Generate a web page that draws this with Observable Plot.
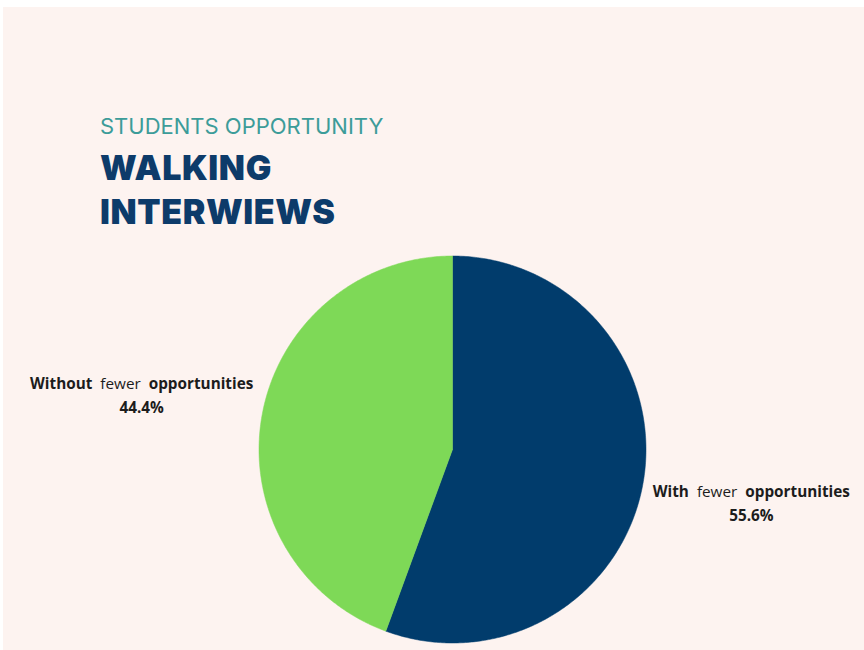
<!DOCTYPE html>
<html>
<head>
<meta charset="utf-8">
<script src="https://cdn.jsdelivr.net/npm/d3@7"></script>
<script src="https://cdn.jsdelivr.net/npm/@observablehq/plot@0.6"></script>
<style>
  html, body { margin: 0; padding: 0; background: #ffffff; width: 864px; height: 650px; overflow: hidden; }
  #bg { position: absolute; left: 3px; top: 7px; width: 861px; height: 643px; background: #fdf3f0; }
  #chart { position: absolute; left: 0; top: 0; }
  #head { position: absolute; left: 100px; top: 112px; }
  .sub { font-family: "Inter", "Liberation Sans", sans-serif; font-weight: 400; font-size: 22px; color: #3c9c99; letter-spacing: 0px; line-height: 28px; }
  .big { font-family: "Inter", "DejaVu Sans", sans-serif; font-weight: 900; font-size: 34px; color: #0d3b6a; line-height: 44px; letter-spacing: 0.6px; }
</style>
</head>
<body>
<div id="bg"></div>
<div id="chart"></div>
<div id="head">
  <div class="sub">STUDENTS OPPORTUNITY</div>
  <div class="big" style="margin-top:6px">WALKING</div>
  <div class="big">INTERWIEWS</div>
</div>
<script>
const categories = ["With fewer opportunities", "Without fewer opportunities"];
const percents = [55.6, 44.4];
const colors = ["#013c6c", "#7ed957"];

const pie = d3.pie().sort(null).value(d => d)(percents);

// Build slice outlines (unit circle, angle clockwise from top)
const slicePts = [];
pie.forEach((s, i) => {
  slicePts.push({cat: categories[i], x: 0, y: 0});
  const n = Math.max(2, Math.ceil((s.endAngle - s.startAngle) / 0.01));
  for (let k = 0; k <= n; k++) {
    const a = s.startAngle + (s.endAngle - s.startAngle) * k / n;
    slicePts.push({cat: categories[i], x: Math.sin(a), y: Math.cos(a)});
  }
  slicePts.push({cat: categories[i], x: 0, y: 0});
});

const labelR = 1.6;
const labels = pie.map((s, i) => {
  const a = (s.startAngle + s.endAngle) / 2;
  return {cat: categories[i], pct: percents[i], x: labelR * Math.sin(a), y: labelR * Math.cos(a)};
});

const plot = Plot.plot({
  width: 864,
  height: 650,
  marginLeft: 258.5,
  marginRight: 218.5,
  marginTop: 255.5,
  marginBottom: 7.5,
  x: {domain: [-1, 1], axis: null},
  y: {domain: [-1, 1], axis: null},
  style: {background: "transparent", overflow: "visible"},
  marks: [
    ...categories.map((c, i) =>
      Plot.line(slicePts.filter(d => d.cat === c), {x: "x", y: "y", fill: colors[i], stroke: colors[i], strokeWidth: 0.5, curve: "linear"})
    ),
    Plot.text(labels, {
      x: "x", y: "y",
      dx: -6, dy: -2,
      text: d => d.cat + "\n" + d.pct.toFixed(1) + "%",
      fontFamily: "Open Sans, Noto Sans, sans-serif",
      fontSize: 15.3,
      fontWeight: 700,
      fill: "#1c1c1c",
      lineHeight: 1.57,
      textAnchor: "middle"
    })
  ]
});

// give the word "fewer" a normal weight
d3.select(plot).selectAll("text tspan").each(function() {
  const t = this.textContent;
  if (t.includes(" fewer ")) {
    const parts = t.split(" fewer ");
    const el = d3.select(this);
    el.text(null);
    el.append("tspan").text(parts[0] + "  ");
    el.append("tspan").attr("font-weight", 400).text("fewer");
    el.append("tspan").text("  " + parts[1]);
  }
});

document.getElementById("chart").appendChild(plot);
</script>
</body>
</html>
